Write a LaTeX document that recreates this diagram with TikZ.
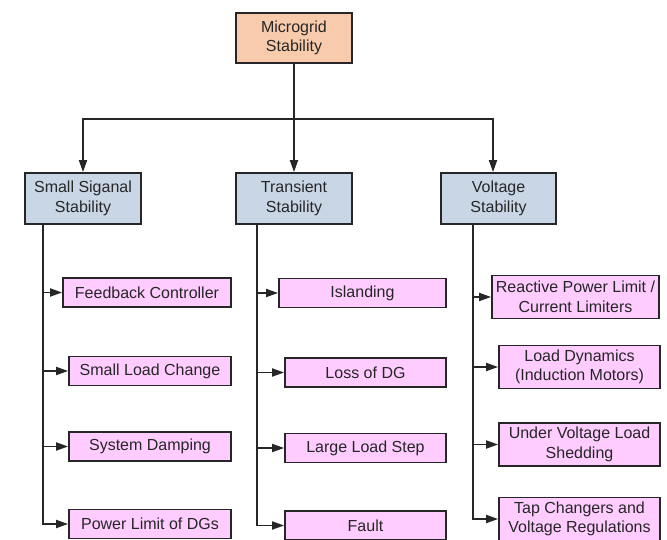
\documentclass[tikz,border=0pt]{standalone}
\usepackage{fontspec}
\setmainfont{Liberation Sans}
\usetikzlibrary{arrows.meta}
\definecolor{rootorange}{HTML}{F8CBAD}
\definecolor{groupblue}{HTML}{C9D6E5}
\definecolor{leafpink}{HTML}{FFCCFF}

\begin{document}
\begin{tikzpicture}[x=1pt, y=-1pt,
  every node/.style = {shape=rectangle, draw=black!85, line width=1.8pt,
    align=center, inner sep=0pt, text=black!85,
    font=\fontsize{16}{19.5}\selectfont},
  rootbox/.style = {fill=rootorange, minimum width=116pt, minimum height=50pt},
  groupbox/.style = {fill=groupblue, minimum width=116pt, minimum height=51pt},
  leafbox/.style = {fill=leafpink, minimum height=29pt},
  tallbox/.style = {fill=leafpink, minimum height=43pt},
  link/.style = {line width=1.8pt, draw=black!85},
  >={Triangle[length=12pt,width=8pt]}]
  \useasboundingbox (0,0) rectangle (667,540);
  % root and the three kinds of stability
  \node[rootbox] (mg) at (294,38) {Microgrid\\Stability};
  \node[groupbox] (sss) at (83,198.5) {Small Siganal\\Stability};
  \node[groupbox] (ts) at (294,198.5) {Transient\\Stability};
  \node[groupbox, minimum width=115pt] (vs) at (498.5,198.5) {Voltage\\Stability};
  \coordinate (bus) at (0,119);
  \coordinate (busl) at (sss.north |- bus);
  \coordinate (busr) at ([xshift=-5.5pt]vs.north |- bus);
  \draw[link,->] (mg) -- (ts);
  \draw[link,<->] (sss.north) -- (busl) -- (busr) -- ([xshift=-5.5pt]vs.north);
  % small signal
  \node[leafbox, minimum width=168pt] (fbc) at (147,292.5) {Feedback Controller};
  \node[leafbox, minimum width=162pt] (slc) at (150,371) {Small Load Change};
  \node[leafbox, minimum width=162pt] (sdp) at (150,446.5) {System Damping};
  \node[leafbox, minimum width=162pt] (pdg) at (150,524) {Power Limit of DGs};
  \draw[link,->] ([xshift=-40pt]sss.south) |- (pdg);
  \foreach \n in {fbc,slc,sdp}
    \draw[link,->] ([xshift=-40pt]sss.south |- \n) -- (\n);
  % transient
  \node[leafbox, minimum width=167pt] (isl) at (362.5,293) {Islanding};
  \node[leafbox, minimum width=161pt] (ldg) at (365.5,372.5) {Loss of DG};
  \node[leafbox, minimum width=161pt] (lls) at (365.5,448) {Large Load Step};
  \node[leafbox, minimum width=161pt] (flt) at (365.5,525.5) {Fault};
  \draw[link,->] ([xshift=-37pt]ts.south) |- (flt);
  \foreach \n in {isl,ldg,lls}
    \draw[link,->] ([xshift=-37pt]ts.south |- \n) -- (\n);
  % voltage
  \node[tallbox, minimum width=167pt] (rpl) at (575.5,297) {Reactive Power Limit /\\Current Limiters};
  \node[tallbox, minimum width=161pt] (ldm) at (579.5,367) {Load Dynamics\\(Induction Motors)};
  \node[tallbox, minimum width=161pt] (uvl) at (579.5,444.5) {Under Voltage Load\\Shedding};
  \node[tallbox, minimum width=161pt] (tap) at (579.5,519) {Tap Changers and\\Voltage Regulations};
  \draw[link,->] ([xshift=-25.5pt]vs.south) |- (tap);
  \foreach \n in {rpl,ldm,uvl}
    \draw[link,->] ([xshift=-25.5pt]vs.south |- \n) -- (\n);
\end{tikzpicture}
\end{document}
